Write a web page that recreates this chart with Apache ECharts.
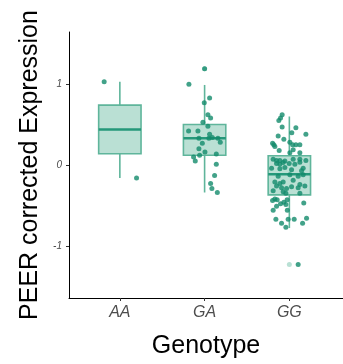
<!DOCTYPE html>
<html><head><meta charset="utf-8">
<script src="https://cdn.jsdelivr.net/npm/echarts@6/dist/echarts.min.js"></script>
<style>html,body{margin:0;padding:0;background:#fff}#c{width:343px;height:364px}</style>
</head><body><div id="c"></div>
<script>
// Categories and tick labels
const genotypes = ['AA', 'GA', 'GG'];
const yTicks = [-1, 0, 1];
// Box statistics: [position, lowerWhisker, Q1, median, Q3, upperWhisker]
const boxStats = [
  [1, -0.16, 0.14, 0.44, 0.74, 1.03],
  [2, -0.34, 0.12, 0.33, 0.50, 0.99],
  [3, -0.78, -0.37, -0.115, 0.115, 0.60]
];
// Boxplot outliers (light)
const outliers = [[2, 1.19], [3, -1.23]];
// Jittered points [x, value]
const ptsAA = [[0.815, 1.03], [1.197, -0.16]];
const ptsGA = [
  [2.000, 1.19], [1.815, 1.00], [2.059, 0.83], [1.996, 0.77], [2.039, 0.62], [2.071, 0.58],
  [1.980, 0.53], [2.039, 0.48], [1.811, 0.42], [1.921, 0.42], [2.059, 0.38], [2.051, 0.33],
  [1.933, 0.33], [2.091, 0.34], [2.157, 0.33], [2.185, 0.28], [1.973, 0.27], [1.933, 0.20],
  [2.004, 0.16], [2.138, 0.135], [1.941, 0.12], [1.870, 0.10], [1.890, 0.05], [2.138, 0.01],
  [2.118, -0.13], [2.071, -0.23], [2.086, -0.29], [2.150, -0.34]
];
const ptsGG = [
  [2.915, 0.62], [2.896, 0.58], [2.876, 0.55], [2.915, 0.47], [3.077, 0.46], [3.029, 0.40],
  [3.195, 0.38], [2.868, 0.36], [2.935, 0.32], [2.802, 0.27], [2.817, 0.25], [3.006, 0.28],
  [3.038, 0.25], [3.077, 0.25], [3.124, 0.25], [2.829, 0.23], [2.880, 0.18], [3.045, 0.19],
  [3.124, 0.15], [3.006, 0.15],
  [2.809, 0.07], [2.849, 0.055], [2.888, 0.055], [2.947, 0.05], [3.045, 0.07], [3.124, 0.07],
  [3.195, 0.055], [2.849, 0.02], [2.888, 0.01], [2.927, 0.03], [2.998, 0.02], [3.065, 0.01],
  [3.124, 0.035], [2.790, -0.04], [2.888, -0.045], [2.947, -0.03], [3.026, -0.06], [3.144, -0.07],
  [3.163, -0.04], [2.868, -0.14], [3.006, -0.12], [3.104, -0.14], [3.163, -0.12], [2.829, -0.21],
  [2.888, -0.23], [2.927, -0.21], [3.045, -0.19], [3.124, -0.24], [3.183, -0.26], [2.849, -0.26],
  [2.908, -0.28], [2.967, -0.29], [3.026, -0.27], [3.104, -0.28], [2.809, -0.32], [2.927, -0.33],
  [2.959, -0.35], [3.124, -0.35],
  [2.829, -0.42], [2.856, -0.43], [2.802, -0.44], [2.974, -0.43], [2.935, -0.46], [3.170, -0.47],
  [2.896, -0.48], [2.959, -0.49], [2.849, -0.51], [2.809, -0.56], [2.976, -0.56], [2.841, -0.67],
  [2.986, -0.67], [3.057, -0.67], [3.203, -0.66], [2.908, -0.72], [3.156, -0.72], [2.959, -0.77],
  [3.104, -1.23]
];

const FONT = '"Liberation Sans", Arial, Helvetica, sans-serif';
const DARK = '#138b6b';
const BOXFILL = '#bae0d4';
const BOXLINE = '#5fb59b';
const MEDIAN = '#25987a';

const chart = echarts.init(document.getElementById('c'), null, {renderer: 'canvas'});
chart.setOption({
  animation: false,
  backgroundColor: '#fff',
  grid: {left: 69, right: 0, top: 32, bottom: 59, containLabel: false},
  xAxis: {
    type: 'value', min: 0.4, max: 3.633,
    name: 'Genotype', nameLocation: 'middle', nameGap: 36,
    nameTextStyle: {fontFamily: FONT, fontSize: 25, color: '#000'},
    axisLine: {show: true, onZero: false, lineStyle: {color: '#000', width: 1}},
    axisTick: {show: true, length: 3, customValues: [1, 2, 3], lineStyle: {color: '#333'}},
    axisLabel: {customValues: [1, 2, 3], margin: 7, fontFamily: FONT, fontSize: 16, fontStyle: 'italic', color: '#4d4d4d',
      formatter: v => genotypes[Math.round(v) - 1] || ''},
    splitLine: {show: false}
  },
  yAxis: {
    type: 'value', min: -1.645, max: 1.645,
    name: 'PEER corrected Expression', nameLocation: 'middle', nameGap: 26,
    nameTextStyle: {fontFamily: FONT, fontSize: 25, color: '#000'},
    axisLine: {show: true, onZero: false, lineStyle: {color: '#000', width: 1}},
    axisTick: {show: true, length: 3, customValues: yTicks, lineStyle: {color: '#333'}},
    axisLabel: {customValues: yTicks, margin: 7, fontFamily: FONT, fontSize: 10, fontStyle: 'italic', color: '#4d4d4d'},
    splitLine: {show: false}
  },
  series: [
    {
      type: 'custom', z: 1,
      data: boxStats,
      renderItem: function (params, api) {
        const x = api.value(0);
        const half = api.size([0.25, 0])[0];
        const pLo = api.coord([x, api.value(1)]);
        const pQ1 = api.coord([x, api.value(2)]);
        const pMed = api.coord([x, api.value(3)]);
        const pQ3 = api.coord([x, api.value(4)]);
        const pHi = api.coord([x, api.value(5)]);
        return {
          type: 'group',
          children: [
            {type: 'line', shape: {x1: pHi[0], y1: pHi[1], x2: pQ3[0], y2: pQ3[1]}, style: {stroke: BOXLINE, lineWidth: 1.6}},
            {type: 'line', shape: {x1: pQ1[0], y1: pQ1[1], x2: pLo[0], y2: pLo[1]}, style: {stroke: BOXLINE, lineWidth: 1.6}},
            {type: 'rect', shape: {x: pQ3[0] - half, y: pQ3[1], width: half * 2, height: pQ1[1] - pQ3[1]},
              style: {fill: BOXFILL, stroke: BOXLINE, lineWidth: 1.6}},
            {type: 'line', shape: {x1: pMed[0] - half, y1: pMed[1], x2: pMed[0] + half, y2: pMed[1]}, style: {stroke: MEDIAN, lineWidth: 2.6}}
          ]
        };
      }
    },
    {type: 'scatter', z: 2, data: outliers, symbolSize: 5, itemStyle: {color: '#a7d8c9'}},
    {type: 'scatter', z: 3, data: ptsAA, symbolSize: 5, itemStyle: {color: DARK}},
    {type: 'scatter', z: 3, data: ptsGA, symbolSize: 5, itemStyle: {color: DARK}},
    {type: 'scatter', z: 3, data: ptsGG, symbolSize: 5, itemStyle: {color: DARK}}
  ]
});
</script>
</body></html>
